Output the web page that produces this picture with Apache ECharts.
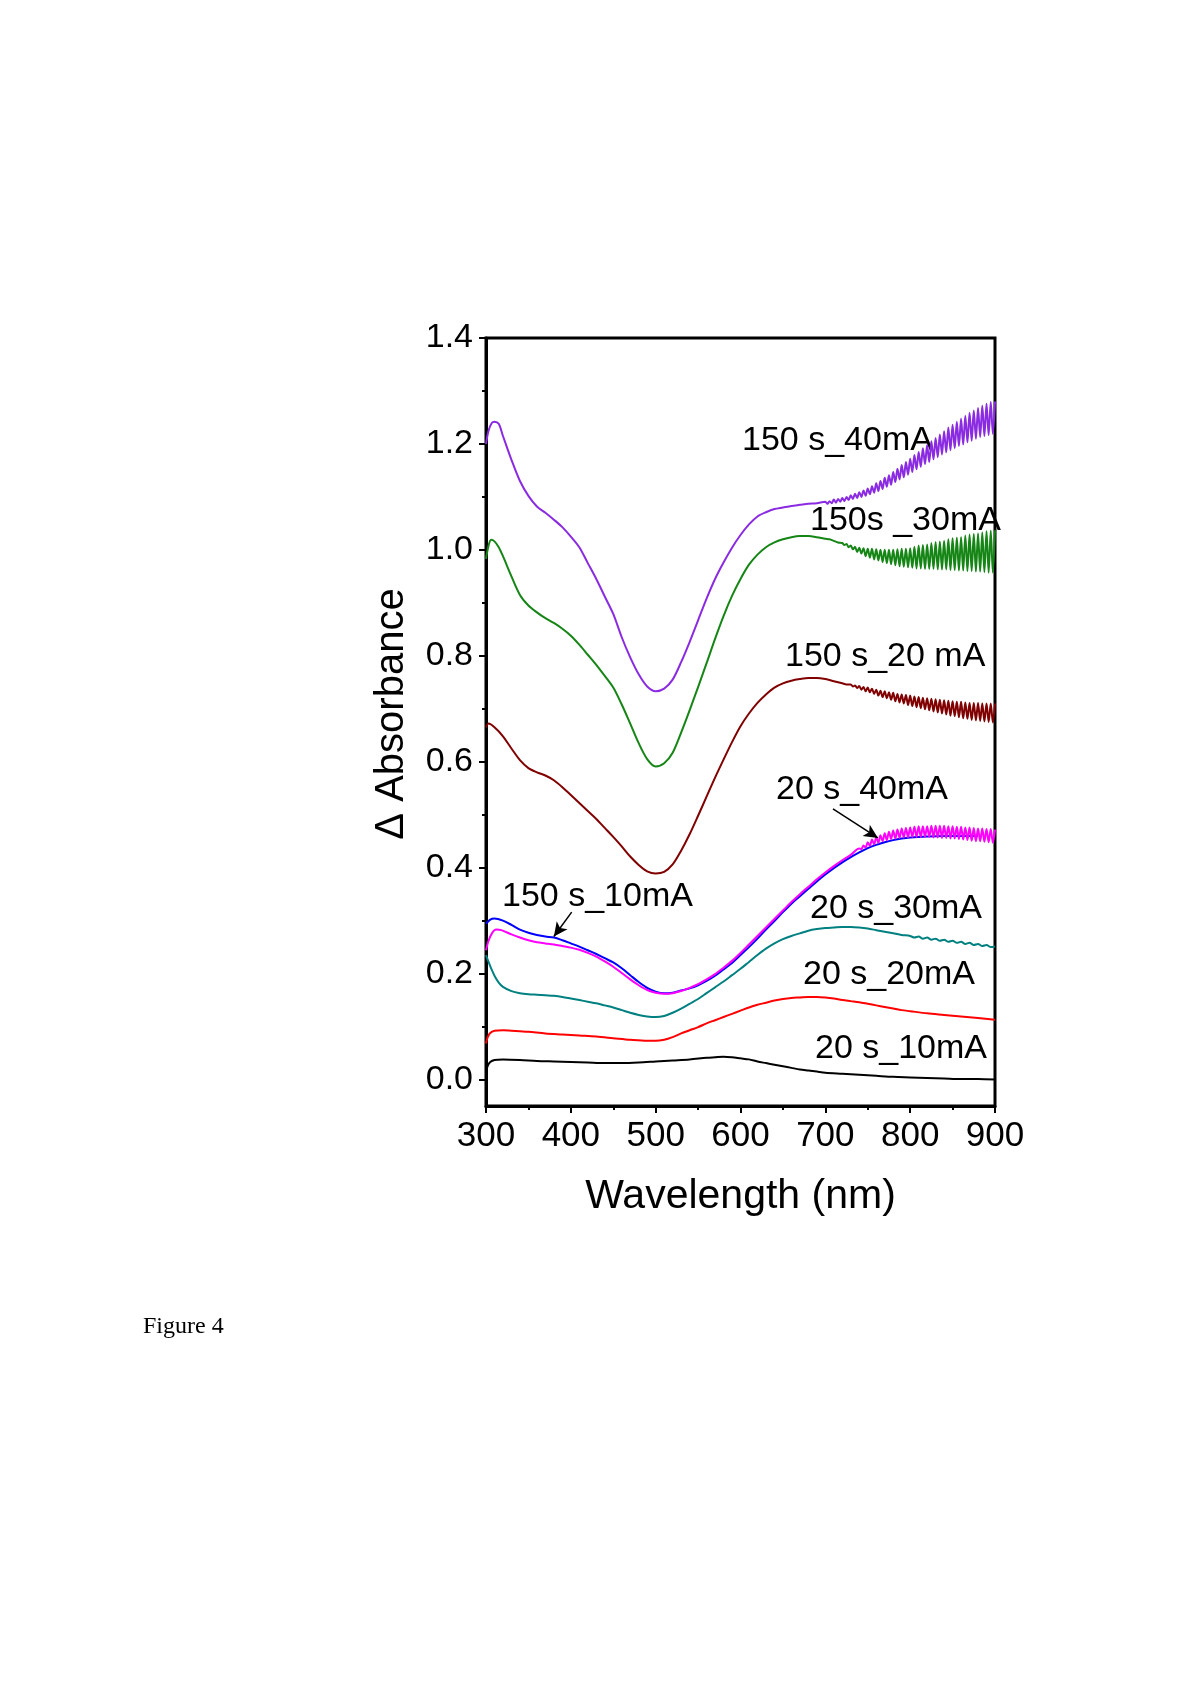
<!DOCTYPE html>
<html>
<head>
<meta charset="utf-8">
<script src="https://cdn.jsdelivr.net/npm/echarts@6/dist/echarts.min.js"></script>
<style>
html,body{margin:0;padding:0;background:#fff;}
#chart{width:1200px;height:1698px;}
</style>
</head>
<body>
<div id="chart"></div>
<script>
// ---- data (wavelength nm, delta absorbance) ----
var s150_40 = [[300,1.200],[303,1.225],[307,1.240],[310,1.242],[315,1.238],[320,1.215],[330,1.170],[340,1.130],[350,1.102],[360,1.082],[370,1.070],[380,1.057],[390,1.043],[400,1.025],[410,1.005],[420,0.975],[430,0.945],[440,0.912],[450,0.879],[460,0.835],[470,0.797],[480,0.765],[490,0.742],[500,0.733],[510,0.738],[520,0.755],[530,0.788],[540,0.826],[550,0.867],[560,0.908],[570,0.945],[580,0.976],[590,1.004],[600,1.028],[610,1.048],[620,1.063],[630,1.071],[640,1.077],[650,1.080],[660,1.083],[670,1.085],[680,1.087],[690,1.088],
[700,1.091],[702.5,1.087],[705,1.092],[707.5,1.088],[710,1.095],[712.5,1.089],[715,1.096],[717.5,1.091],[720,1.098],[722.5,1.092],[725,1.100],[727.5,1.094],[730,1.103],[732.5,1.096],[735,1.106],[737.5,1.098],[740,1.109],[742.5,1.100],[745,1.112],[747.5,1.102],[750,1.116],[752.5,1.105],[755,1.120],[757.5,1.108],[760,1.126],[762.5,1.111],[765,1.130],[767.5,1.115],[770,1.136],[772.5,1.119],[775,1.141],[777.5,1.123],[780,1.147],[782.5,1.128],[785,1.153],[787.5,1.133],[790,1.160],[792.5,1.137],[795,1.166],[797.5,1.142],[800,1.172],[802.5,1.147],[805,1.179],[807.5,1.152],[810,1.185],[812.5,1.157],[815,1.192],[817.5,1.162],[820,1.198],[822.5,1.166],[825,1.205],[827.5,1.171],[830,1.211],[832.5,1.175],[835,1.218],[837.5,1.180],[840,1.224],[842.5,1.184],[845,1.231],[847.5,1.188],[850,1.236],[852.5,1.192],[855,1.242],[857.5,1.196],[860,1.248],[862.5,1.199],[865,1.253],[867.5,1.203],[870,1.259],[872.5,1.206],[875,1.263],[877.5,1.210],[880,1.268],[882.5,1.213],[885,1.272],[887.5,1.215],[890,1.276],[892.5,1.217],[895,1.279],[897.5,1.219],[900,1.280]];
var s150_30 = [[300,0.983],[303,1.008],[306,1.019],[310,1.016],[315,1.005],[320,0.988],[330,0.950],[340,0.915],[350,0.895],[360,0.882],[370,0.871],[380,0.862],[390,0.851],[400,0.838],[410,0.821],[420,0.802],[430,0.783],[440,0.762],[450,0.740],[460,0.708],[470,0.672],[480,0.635],[490,0.605],[500,0.591],[510,0.597],[520,0.617],[530,0.655],[540,0.697],[550,0.741],[560,0.786],[570,0.832],[580,0.875],[590,0.913],[600,0.945],[610,0.972],[620,0.991],[630,1.005],[640,1.014],[650,1.020],[660,1.024],[670,1.026],[680,1.026],[690,1.024],[700,1.021],[705,1.020],[710,1.017],[715,1.014],
[720,1.013],[722.5,1.009],[725,1.011],[727.5,1.005],[730,1.008],[732.5,1.001],[735,1.006],[737.5,0.996],[740,1.004],[742.5,0.993],[745,1.003],[747.5,0.988],[750,1.002],[752.5,0.985],[755,1.002],[757.5,0.982],[760,1.001],[762.5,0.980],[765,1.000],[767.5,0.977],[770,1.000],[772.5,0.975],[775,1.000],[777.5,0.973],[780,1.000],[782.5,0.971],[785,1.001],[787.5,0.969],[790,1.002],[792.5,0.968],[795,1.002],[797.5,0.967],[800,1.003],[802.5,0.966],[805,1.006],[807.5,0.965],[810,1.008],[812.5,0.965],[815,1.009],[817.5,0.964],[820,1.010],[822.5,0.964],[825,1.013],[827.5,0.964],[830,1.015],[832.5,0.963],[835,1.016],[837.5,0.963],[840,1.017],[842.5,0.963],[845,1.020],[847.5,0.962],[850,1.022],[852.5,0.962],[855,1.023],[857.5,0.961],[860,1.024],[862.5,0.961],[865,1.027],[867.5,0.960],[870,1.029],[872.5,0.960],[875,1.030],[877.5,0.959],[880,1.031],[882.5,0.959],[885,1.033],[887.5,0.958],[890,1.035],[892.5,0.957],[895,1.036],[897.5,0.957],[900,1.037]];
var s150_20 = [[300,0.665],[303,0.672],[310,0.665],[320,0.648],[330,0.625],[340,0.603],[350,0.588],[360,0.580],[370,0.574],[380,0.565],[390,0.552],[400,0.537],[410,0.522],[420,0.507],[430,0.492],[440,0.475],[450,0.458],[460,0.440],[470,0.421],[480,0.405],[490,0.393],[500,0.389],[510,0.392],[520,0.406],[530,0.432],[540,0.463],[550,0.498],[560,0.534],[570,0.570],[580,0.604],[590,0.637],[600,0.667],[610,0.691],[620,0.711],[630,0.727],[640,0.740],[650,0.748],[660,0.753],[670,0.756],[680,0.758],[690,0.758],[700,0.756],[710,0.752],[720,0.748],[725,0.746],
[730,0.746],[732.5,0.742],[735,0.744],[737.5,0.739],[740,0.743],[742.5,0.736],[745,0.741],[747.5,0.733],[750,0.740],[752.5,0.731],[755,0.738],[757.5,0.728],[760,0.736],[762.5,0.725],[765,0.734],[767.5,0.722],[770,0.733],[772.5,0.720],[775,0.731],[777.5,0.717],[780,0.730],[782.5,0.714],[785,0.728],[787.5,0.712],[790,0.727],[792.5,0.710],[795,0.726],[797.5,0.707],[800,0.725],[802.5,0.705],[805,0.723],[807.5,0.703],[810,0.722],[812.5,0.701],[815,0.721],[817.5,0.699],[820,0.720],[822.5,0.697],[825,0.719],[827.5,0.695],[830,0.718],[832.5,0.693],[835,0.717],[837.5,0.691],[840,0.716],[842.5,0.689],[845,0.715],[847.5,0.687],[850,0.714],[852.5,0.686],[855,0.713],[857.5,0.684],[860,0.713],[862.5,0.682],[865,0.712],[867.5,0.681],[870,0.711],[872.5,0.679],[875,0.711],[877.5,0.678],[880,0.711],[882.5,0.677],[885,0.710],[887.5,0.676],[890,0.710],[892.5,0.675],[895,0.710],[897.5,0.674],[900,0.710]];
var s150_10 = [[300,0.294],[305,0.302],[310,0.304],[320,0.300],[330,0.292],[340,0.283],[350,0.277],[360,0.273],[370,0.270],[380,0.268],[390,0.263],[400,0.257],[410,0.251],[420,0.244],[430,0.237],[440,0.229],[450,0.221],[460,0.210],[470,0.197],[480,0.184],[490,0.173],[500,0.166],[510,0.163],[520,0.164],[530,0.168],[540,0.172],[550,0.178],[560,0.186],[570,0.196],[580,0.208],[590,0.220],[600,0.235],[610,0.250],[620,0.266],[630,0.283],[640,0.299],[650,0.316],[660,0.332],[670,0.346],[680,0.360],[690,0.374],[700,0.387],[710,0.399],[720,0.410],[730,0.420],[740,0.429],[750,0.437],[760,0.443],[770,0.448],[780,0.452],[790,0.455],[800,0.457],[820,0.459],[840,0.460],[860,0.460],[880,0.460]];
var s20_40 = [[300,0.244],[303,0.262],[307,0.276],[312,0.283],[318,0.282],[330,0.274],[340,0.268],[350,0.263],[360,0.259],[370,0.257],[380,0.255],[390,0.252],[400,0.249],[410,0.245],[420,0.239],[430,0.232],[440,0.223],[450,0.213],[460,0.201],[470,0.189],[480,0.178],[490,0.169],[500,0.164],[510,0.162],[520,0.163],[530,0.167],[540,0.173],[550,0.180],[560,0.189],[570,0.199],[580,0.211],[590,0.224],[600,0.239],[610,0.255],[620,0.271],[630,0.287],[640,0.303],[650,0.319],[660,0.335],[670,0.350],[680,0.364],[690,0.378],[700,0.391],[710,0.403],[720,0.414],[730,0.424],
[740,0.436],[742.5,0.435],[745,0.442],[747.5,0.438],[750,0.448],[752.5,0.441],[755,0.453],[757.5,0.444],[760,0.457],[762.5,0.447],[765,0.461],[767.5,0.450],[770,0.465],[772.5,0.452],[775,0.468],[777.5,0.454],[780,0.470],[782.5,0.455],[785,0.472],[787.5,0.456],[790,0.474],[792.5,0.457],[795,0.475],[797.5,0.457],[800,0.476],[802.5,0.458],[805,0.477],[807.5,0.458],[810,0.478],[812.5,0.458],[815,0.478],[817.5,0.458],[820,0.478],[822.5,0.458],[825,0.479],[827.5,0.457],[830,0.479],[832.5,0.457],[835,0.479],[837.5,0.456],[840,0.479],[842.5,0.456],[845,0.478],[847.5,0.455],[850,0.478],[852.5,0.455],[855,0.477],[857.5,0.454],[860,0.477],[862.5,0.453],[865,0.476],[867.5,0.452],[870,0.476],[872.5,0.451],[875,0.475],[877.5,0.450],[880,0.474],[882.5,0.450],[885,0.474],[887.5,0.449],[890,0.473],[892.5,0.448],[895,0.473],[897.5,0.447],[900,0.472]];
var s20_30 = [[300,0.235],[303,0.222],[306,0.210],[310,0.196],[315,0.183],[320,0.175],[330,0.167],[340,0.163],[350,0.161],[360,0.160],[370,0.159],[380,0.158],[390,0.156],[400,0.153],[410,0.150],[420,0.147],[430,0.144],[440,0.140],[450,0.136],[460,0.131],[470,0.126],[480,0.122],[490,0.119],[500,0.118],[510,0.120],[520,0.126],[530,0.134],[540,0.143],[550,0.152],[560,0.163],[570,0.174],[580,0.185],[590,0.197],[600,0.209],[610,0.222],[620,0.235],[630,0.247],[640,0.257],[650,0.265],[660,0.271],[670,0.276],[680,0.281],[690,0.284],[700,0.286],[710,0.287],[720,0.288],[730,0.288],[740,0.287],[750,0.285],[760,0.282],[770,0.279],[780,0.276],[790,0.273],[800,0.271],[805,0.268],[810,0.270],[815,0.266],[820,0.268],[825,0.264],[830,0.266],[835,0.262],[840,0.264],[845,0.260],[850,0.262],[855,0.258],[860,0.260],[865,0.256],[870,0.258],[875,0.254],[880,0.256],[885,0.252],[890,0.254],[895,0.250],[900,0.251]];
var s20_20 = [[300,0.068],[302,0.080],[305,0.088],[310,0.092],[320,0.093],[330,0.092],[340,0.091],[350,0.090],[370,0.087],[390,0.085],[410,0.083],[430,0.081],[450,0.078],[470,0.075],[490,0.073],[500,0.073],[510,0.075],[520,0.080],[530,0.087],[540,0.093],[550,0.099],[560,0.106],[570,0.112],[580,0.118],[590,0.124],[600,0.130],[610,0.136],[620,0.141],[630,0.145],[640,0.149],[650,0.152],[660,0.154],[670,0.155],[680,0.156],[690,0.156],[700,0.155],[710,0.153],[720,0.150],[730,0.148],[740,0.146],[750,0.143],[760,0.140],[770,0.137],[780,0.134],[790,0.131],[800,0.129],[820,0.125],[840,0.122],[860,0.119],[880,0.116],[900,0.113]];
var s20_10 = [[300,0.014],[302,0.026],[305,0.033],[310,0.037],[320,0.038],[340,0.037],[360,0.035],[380,0.034],[400,0.033],[420,0.032],[440,0.031],[460,0.031],[480,0.032],[500,0.034],[520,0.036],[540,0.038],[560,0.041],[570,0.042],[580,0.043],[590,0.042],[600,0.040],[610,0.038],[620,0.034],[630,0.031],[640,0.028],[650,0.025],[660,0.022],[670,0.019],[680,0.017],[690,0.015],[700,0.013],[720,0.011],[740,0.009],[760,0.007],[780,0.005],[800,0.004],[820,0.003],[840,0.002],[860,0.001],[880,0.001],[900,0.000]];

var xTicks = [300, 400, 500, 600, 700, 800, 900];
var yTicks = [0.0, 0.2, 0.4, 0.6, 0.8, 1.0, 1.2, 1.4];
var yMinorTicks = [0.1, 0.3, 0.5, 0.7, 0.9, 1.1, 1.3];

var seriesNames = ['150 s_40mA', '150s _30mA', '150 s_20 mA', '150 s_10mA', '20 s_40mA', '20 s_30mA', '20 s_20mA', '20 s_10mA'];
var seriesColors = ['#8A2BE2', '#158515', '#800000', '#0000FF', '#FF00FF', '#008080', '#FF0000', '#000000'];
var seriesData = [s150_40, s150_30, s150_20, s150_10, s20_40, s20_30, s20_20, s20_10];

// arrows: [from, to] in data coordinates
var arrow20_40 = [[709, 0.511], [762, 0.456]];
var arrow150_10 = [[401, 0.316], [380, 0.270]];

var FONT = '"Liberation Sans", Arial, sans-serif';
var chart = echarts.init(document.getElementById('chart'), null, {renderer: 'canvas'});

var series = seriesData.map(function (d, i) {
  return {
    type: 'line',
    name: seriesNames[i],
    data: d,
    showSymbol: false,
    symbol: 'none',
    smooth: 0.3,
    lineStyle: {color: seriesColors[i], width: 2},
    itemStyle: {color: seriesColors[i]},
    z: 2,
    animation: false
  };
});
function arrowLine(pts) {
  return {
    silent: true,
    symbol: ['none', 'arrow'],
    symbolSize: [10, 14],
    label: {show: false},
    lineStyle: {color: '#000', width: 1.5, type: 'solid'},
    data: [[{coord: pts[0]}, {coord: pts[1]}]]
  };
}
series[4].markLine = arrowLine(arrow20_40);
series[3].markLine = arrowLine(arrow150_10);

function annot(txt, left, cy) {
  return {type: 'text', left: left, top: cy - 14.5, style: {text: txt, font: '34px ' + FONT, fill: '#000'}};
}

var option = {
  backgroundColor: '#fff',
  animation: false,
  grid: {left: 486, top: 338, right: 205, bottom: 592, show: true, borderColor: '#000', borderWidth: 3, backgroundColor: 'transparent'},
  xAxis: {
    type: 'value', min: 300, max: 900, interval: 100,
    name: 'Wavelength (nm)', nameLocation: 'middle', nameGap: 70,
    nameTextStyle: {fontFamily: FONT, fontSize: 41, color: '#000'},
    axisLine: {show: true, onZero: false, lineStyle: {color: '#000', width: 3}},
    axisTick: {show: true, inside: false, length: 7, lineStyle: {color: '#000', width: 2}},
    minorTick: {show: true, splitNumber: 2, length: 4, lineStyle: {color: '#000', width: 2}},
    splitLine: {show: false}, minorSplitLine: {show: false},
    axisLabel: {fontFamily: FONT, fontSize: 35, color: '#000', margin: 13,
      customValues: xTicks, formatter: function (v) { return String(v); }}
  },
  yAxis: [{
    type: 'value', min: -0.05, max: 1.4,
    axisLine: {show: true, onZero: false, lineStyle: {color: '#000', width: 3}},
    axisTick: {show: true, inside: false, length: 7, customValues: yTicks, lineStyle: {color: '#000', width: 2}},
    splitLine: {show: false},
    axisLabel: {fontFamily: FONT, fontSize: 34, color: '#000', margin: 13,
      customValues: yTicks, formatter: function (v) { return v.toFixed(1); }}
  }, {
    type: 'value', min: -0.05, max: 1.4, position: 'left',
    axisLine: {show: false},
    axisTick: {show: true, inside: false, length: 4, customValues: yMinorTicks, lineStyle: {color: '#000', width: 2}},
    axisLabel: {show: false},
    splitLine: {show: false}
  }],
  series: series,
  graphic: [
    annot('150 s_40mA', 742, 438),
    annot('150s _30mA', 810, 518),
    annot('150 s_20 mA', 785, 654),
    annot('20 s_40mA', 776, 787),
    annot('150 s_10mA', 502, 894),
    annot('20 s_30mA', 810, 906),
    annot('20 s_20mA', 803, 972),
    annot('20 s_10mA', 815, 1046),
    {type: 'text', x: 392, y: 714, rotation: Math.PI / 2,
      style: {text: '\u0394 Absorbance', font: '40px ' + FONT, fill: '#000', align: 'center', verticalAlign: 'middle'}},
    {type: 'text', left: 143, top: 1315, style: {text: 'Figure 4', font: '24px "Liberation Serif", "Times New Roman", serif', fill: '#000'}}
  ]
};
chart.setOption(option);
</script>
</body>
</html>
